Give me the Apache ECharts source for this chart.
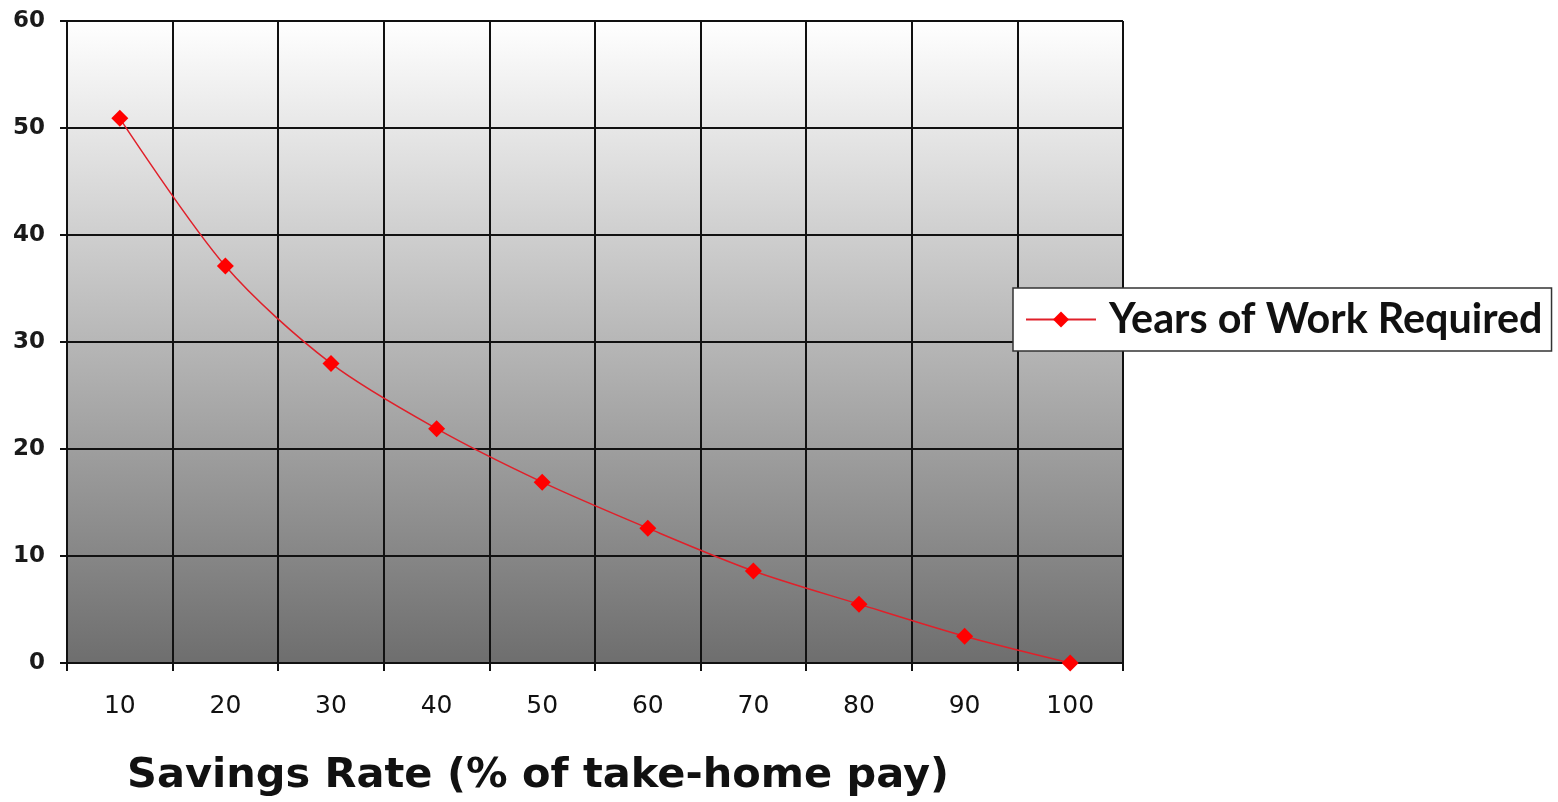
<!DOCTYPE html>
<html>
<head>
<meta charset="utf-8">
<script src="https://cdn.jsdelivr.net/npm/echarts@6/dist/echarts.min.js"></script>
<style>html,body{margin:0;padding:0;background:#fff;}#c{width:1558px;height:802px;}</style>
</head>
<body>
<div id="c"></div>
<script>
const categories = ['10','20','30','40','50','60','70','80','90','100'];
const yearsOfWork = [50.9, 37.1, 28.0, 21.9, 16.9, 12.6, 8.6, 5.5, 2.5, 0];
const yTicks = {min: 0, max: 60, interval: 10};
const seriesName = 'Years of Work Required';
const xTitle = 'Savings Rate (% of take-home pay)';

const chart = echarts.init(document.getElementById('c'));
chart.setOption({
  animation: false,
  backgroundColor: '#ffffff',
  title: {
    text: xTitle,
    left: 127,
    top: 755,
    padding: 0,
    textStyle: {fontFamily: 'DejaVu Sans', fontWeight: 'bold', fontSize: 41.5, color: '#111'}
  },
  legend: {
    data: [seriesName],
    left: 1013,
    top: 288,
    orient: 'vertical',
    backgroundColor: '#ffffff',
    borderColor: '#333',
    borderWidth: 1.5,
    borderRadius: 0,
    padding: [11, 9, 11, 12],
    itemWidth: 70,
    itemHeight: 20,
    itemGap: 0,
    textStyle: {fontFamily: 'Lato', fontWeight: 'bold', fontSize: 41.3, color: '#111', padding: [0, 0, 0, 8]}
  },
  grid: {
    left: 67, right: 435, top: 21, bottom: 139,
    show: true,
    borderWidth: 0,
    backgroundColor: new echarts.graphic.LinearGradient(0, 0, 0, 1, [
      {offset: 0, color: '#ffffff'},
      {offset: 1, color: '#6e6e6e'}
    ])
  },
  xAxis: {
    type: 'category',
    data: categories,
    boundaryGap: true,
    axisLine: {show: true, lineStyle: {color: '#111', width: 2}},
    axisTick: {show: true, length: 8, lineStyle: {color: '#111', width: 2}},
    axisLabel: {margin: 31, fontFamily: 'DejaVu Sans', fontSize: 25, color: '#111'},
    splitLine: {show: true, lineStyle: {color: '#111', width: 2}}
  },
  yAxis: {
    type: 'value',
    min: yTicks.min, max: yTicks.max, interval: yTicks.interval,
    axisLine: {show: true, lineStyle: {color: '#111', width: 2}},
    axisTick: {show: true, length: 7, lineStyle: {color: '#111', width: 2}},
    axisLabel: {margin: 22, fontFamily: 'DejaVu Sans', fontWeight: 'bold', fontSize: 23, color: '#1a1a1a'},
    splitLine: {show: true, lineStyle: {color: '#111', width: 2}}
  },
  series: [{
    name: seriesName,
    type: 'line',
    data: yearsOfWork,
    smooth: 0.3,
    symbol: 'diamond',
    symbolSize: 17,
    lineStyle: {color: '#e0202a', width: 1.5},
    itemStyle: {color: '#ff0000'}
  }]
});
</script>
</body>
</html>
